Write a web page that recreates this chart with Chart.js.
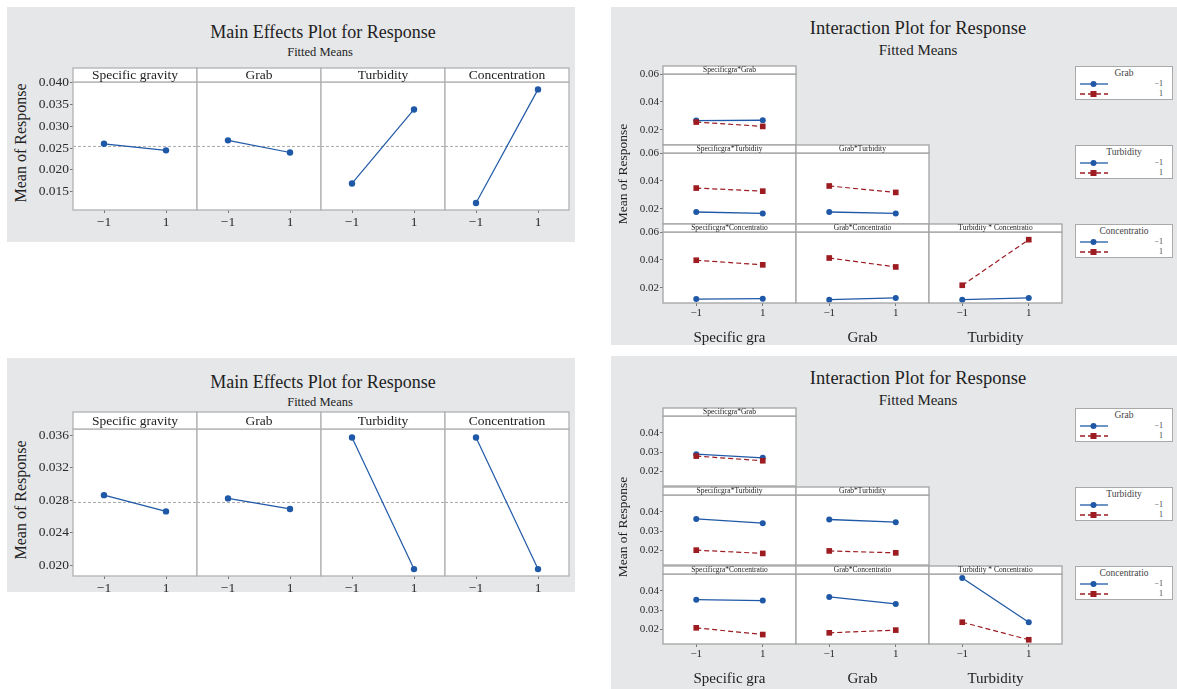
<!DOCTYPE html>
<html>
<head>
<meta charset="utf-8">
<script src="https://cdn.jsdelivr.net/npm/chart.js@4.4.1/dist/chart.umd.min.js"></script>
<style>
body { margin:0; width:1177px; height:689px; background:#fff; position:relative; overflow:hidden;
       font-family:'Liberation Serif','Times New Roman',serif; color:#222; }
.bg { position:absolute; background:#e6e7e9; }
.txt { position:absolute; white-space:nowrap; transform:translate(-50%,-50%); line-height:1; }
.rot { transform:translate(-50%,-50%) rotate(-90deg); }
canvas { position:absolute; }
.leg { position:absolute; background:#fff; border:1px solid #a9a9a9; box-sizing:border-box; color:#444; }
</style>
</head>
<body>
<script>
// ---- data ----
const levels = [-1, 1];
const factors = ['Specific gravity', 'Grab', 'Turbidity', 'Concentration'];
const axisNames = ['Specific gra', 'Grab', 'Turbidity'];
const stripNames = [
  ['Specificgra*Grab'],
  ['Specificgra*Turbidity', 'Grab*Turbidity'],
  ['Specificgra*Concentratio', 'Grab*Concentratio', 'Turbidity * Concentratio']
];
const legendNames = ['Grab', 'Turbidity', 'Concentratio'];
const legendLevels = ['\u22121', '1'];

// main effects, first run
const meansA = [[0.0260, 0.0245], [0.0268, 0.0240], [0.0169, 0.0339], [0.0124, 0.0385]];
const grandA = 0.0254;
const ticksA = [0.015, 0.020, 0.025, 0.030, 0.035, 0.040];
// main effects, second run
const meansB = [[0.0286, 0.0266], [0.0282, 0.0269], [0.0357, 0.0195], [0.0357, 0.0195]];
const grandB = 0.0277;
const ticksB = [0.020, 0.024, 0.028, 0.032, 0.036];

// interaction, first run (low = -1 of trace factor, high = 1)
const intLowA = [
  [[0.0267, 0.0269]],
  [[0.0178, 0.0168], [0.0178, 0.0168]],
  [[0.0120, 0.0123], [0.0116, 0.0128], [0.0116, 0.0128]]
];
const intHighA = [
  [[0.0256, 0.0225]],
  [[0.0349, 0.0327], [0.0364, 0.0318]],
  [[0.0398, 0.0365], [0.0414, 0.0350], [0.0219, 0.0545]]
];
const intTicksA = [0.02, 0.04, 0.06];
// interaction, second run
const intLowB = [
  [[0.0290, 0.0271]],
  [[0.0364, 0.0342], [0.0361, 0.0347]],
  [[0.0355, 0.0350], [0.0369, 0.0333], [0.0467, 0.0238]]
];
const intHighB = [
  [[0.0280, 0.0256]],
  [[0.0202, 0.0185], [0.0198, 0.0188]],
  [[0.0209, 0.0174], [0.0183, 0.0197], [0.0238, 0.0147]]
];
const intTicksB = [0.02, 0.03, 0.04];

// ---- styles ----
const SERIF = "'Liberation Serif', 'Times New Roman', serif";
const BLUE = '#1f58a6';
const RED = '#9c1c22';
Chart.defaults.font.family = SERIF;
Chart.defaults.color = '#2a2a2a';

function addDiv(cls, x, y, w, h) {
  const d = document.createElement('div');
  d.className = cls;
  d.style.left = x + 'px'; d.style.top = y + 'px';
  if (w) { d.style.width = w + 'px'; d.style.height = h + 'px'; }
  document.body.appendChild(d);
  return d;
}
function addText(str, x, y, size, rot) {
  const d = addDiv(rot ? 'txt rot' : 'txt', x, y);
  d.style.fontSize = size + 'px';
  d.textContent = str;
}

const facetPlugin = {
  id: 'facet',
  beforeDraw(chart) {
    const a = chart.chartArea, c = chart.ctx;
    c.save();
    c.fillStyle = '#fff';
    c.fillRect(a.left, a.top, a.width, a.height);
    c.restore();
  },
  afterDraw(chart, args, o) {
    const a = chart.chartArea, c = chart.ctx;
    c.save();
    c.strokeStyle = o.line; c.lineWidth = o.lw;
    c.strokeRect(a.left, a.top, a.width, a.height);
    if (o.strip) {
      c.fillStyle = '#fff';
      c.fillRect(a.left, a.top - o.stripH, a.width, o.stripH);
      c.strokeRect(a.left, a.top - o.stripH, a.width, o.stripH);
      c.fillStyle = '#222';
      c.font = o.stripFont + 'px ' + SERIF;
      c.textAlign = 'center'; c.textBaseline = 'middle';
      c.fillText(o.strip, (a.left + a.right) / 2, a.top - o.stripH / 2 + 0.5);
    }
    c.restore();
  }
};

function cell(p) {
  const cv = document.createElement('canvas');
  cv.width = p.w + p.yw + 2;
  cv.height = p.stripH + p.h + p.xh + 2;
  cv.style.left = (p.left - p.yw - 1) + 'px';
  cv.style.top = (p.top - 1) + 'px';
  document.body.appendChild(cv);
  new Chart(cv, {
    type: 'line',
    data: { datasets: p.datasets },
    options: {
      responsive: false,
      animation: false,
      devicePixelRatio: 1,
      layout: { autoPadding: false, padding: { top: p.stripH + 1, left: 1, right: 1, bottom: 1 } },
      plugins: {
        legend: { display: false },
        tooltip: { enabled: false },
        facet: { strip: p.strip, stripH: p.stripH, stripFont: p.stripFont, line: p.line, lw: 1.3 }
      },
      scales: {
        x: {
          type: 'linear', min: -2, max: 2,
          display: p.xh > 0,
          afterBuildTicks: s => { s.ticks = levels.map(v => ({ value: v })); },
          afterFit: s => { s.height = p.xh; s.paddingLeft = 0; s.paddingRight = 0; },
          grid: { drawOnChartArea: false, drawTicks: true, tickLength: 3, color: '#777' },
          border: { display: false },
          ticks: {
            padding: 1, color: '#2a2a2a', autoSkip: false, maxRotation: 0,
            font: { family: SERIF, size: p.tickFont },
            callback: v => v < 0 ? '\u2212' + Math.abs(v) : String(v)
          },
          title: {
            display: !!p.xTitle, text: p.xTitle || '', color: '#222',
            font: { family: SERIF, size: 15 }, padding: { top: 3, bottom: 0 }
          }
        },
        y: {
          type: 'linear', min: p.ymin, max: p.ymax,
          display: p.yw > 0,
          afterBuildTicks: s => { s.ticks = p.yticks.map(v => ({ value: v })); },
          afterFit: s => { s.width = p.yw; s.paddingTop = 0; s.paddingBottom = 0; },
          grid: { drawOnChartArea: false, drawTicks: true, tickLength: 3, color: '#777' },
          border: { display: false },
          ticks: {
            padding: 1, color: '#2a2a2a', autoSkip: false,
            font: { family: SERIF, size: p.tickFont },
            callback: v => v.toFixed(p.ydec)
          }
        }
      }
    },
    plugins: [facetPlugin]
  });
}

function pts(vals) {
  return levels.map((x, i) => ({ x: x, y: vals[i] }));
}

// ---- main effects panel ----
function mainEffects(cfg) {
  const cols = [73, 197, 321, 445];
  addDiv('bg', 7, cfg.bgTop, 568, cfg.bgH);
  addText('Main Effects Plot for Response', 323, cfg.titleY, 18);
  addText('Fitted Means', 320, cfg.titleY + 20, 12.5);
  addText('Mean of Response', 21, cfg.stripTop + cfg.stripH + cfg.h / 2 - 3, 16, true);
  cfg.means.forEach((m, i) => {
    cell({
      left: cols[i], top: cfg.stripTop, w: 124, h: cfg.h,
      stripH: cfg.stripH, strip: factors[i], stripFont: 13.5,
      yw: i === 0 ? 48 : 0, xh: 22, tickFont: 13.5,
      ymin: cfg.ymin, ymax: cfg.ymax, yticks: cfg.ticks, ydec: 3,
      line: '#b2b2b2',
      datasets: [
        { data: pts(m), borderColor: BLUE, borderWidth: 1.2, backgroundColor: BLUE,
          pointRadius: 3.2, pointBorderWidth: 0, pointStyle: 'circle', tension: 0 },
        { data: [{ x: -2, y: cfg.grand }, { x: 2, y: cfg.grand }], borderColor: '#a9a9a9',
          borderWidth: 1, borderDash: [3, 2], pointRadius: 0 }
      ]
    });
  });
}

// ---- interaction panel ----
function legendBox(x, y, title) {
  const d = addDiv('leg', x, y, 98, 34);
  let html = `<div style="position:absolute;left:0;right:0;top:1px;text-align:center;font-size:9.5px;line-height:11px">${title}</div>`;
  html += `<svg style="position:absolute;left:4px;top:13px" width="30" height="8">
    <line x1="0" y1="4" x2="28" y2="4" stroke="${BLUE}" stroke-width="1.3"/>
    <circle cx="13.5" cy="4" r="3" fill="${BLUE}"/></svg>`;
  html += `<svg style="position:absolute;left:4px;top:23px" width="30" height="8">
    <line x1="0" y1="4" x2="28" y2="4" stroke="${RED}" stroke-width="1.3" stroke-dasharray="5,3"/>
    <rect x="10.5" y="1" width="6" height="6" fill="${RED}"/></svg>`;
  legendLevels.forEach((t, i) => {
    html += `<div style="position:absolute;right:9px;top:${12 + i * 10}px;font-size:8px;line-height:10px">${t}</div>`;
  });
  d.innerHTML = html;
}

function interaction(cfg) {
  const cols = [663, 796, 929];
  addDiv('bg', 611, cfg.bgTop, 566, cfg.bgH);
  addText('Interaction Plot for Response', 918, cfg.titleY, 18.5);
  addText('Fitted Means', 918, cfg.titleY + 22, 15);
  addText('Mean of Response', 623, cfg.yTitleY, 13.5, true);
  cfg.low.forEach((row, r) => {
    row.forEach((lowVals, c) => {
      const last = r === cfg.low.length - 1;
      cell({
        left: cols[c], top: cfg.rows[r], w: 133, h: cfg.h,
        stripH: 8, strip: stripNames[r][c], stripFont: 7.5,
        yw: c === 0 ? 40 : 0, xh: last ? 44 : 0, tickFont: 11,
        xTitle: last ? axisNames[c] : null,
        ymin: cfg.ymin, ymax: cfg.ymax, yticks: cfg.ticks, ydec: 2,
        line: '#a4a4a4',
        datasets: [
          { data: pts(cfg.high[r][c]), borderColor: RED, backgroundColor: RED, borderWidth: 1.2,
            borderDash: [5, 3], pointRadius: 4, pointStyle: 'rect', pointBorderWidth: 0 },
          { data: pts(lowVals), borderColor: BLUE, backgroundColor: BLUE, borderWidth: 1.3,
            pointRadius: 3, pointStyle: 'circle', pointBorderWidth: 0 }
        ]
      });
    });
  });
  legendNames.forEach((t, i) => legendBox(1075, cfg.rows[i], t));
}

mainEffects({ bgTop: 7, bgH: 235, titleY: 32, stripTop: 68, stripH: 14, h: 128,
  means: meansA, grand: grandA, ticks: ticksA, ymin: 0.0108, ymax: 0.0402 });
mainEffects({ bgTop: 358, bgH: 234, titleY: 382, stripTop: 412, stripH: 17, h: 147,
  means: meansB, grand: grandB, ticks: ticksB, ymin: 0.01865, ymax: 0.03674 });

interaction({ bgTop: 7, bgH: 338, titleY: 28, rows: [66, 145, 224], h: 71, yTitleY: 174,
  low: intLowA, high: intHighA, ticks: intTicksA, ymin: 0.0092, ymax: 0.0600 });
interaction({ bgTop: 356, bgH: 333, titleY: 378, rows: [408, 487, 566], h: 70, yTitleY: 527,
  low: intLowB, high: intHighB, ticks: intTicksB, ymin: 0.0125, ymax: 0.0488 });
</script>
</body>
</html>
